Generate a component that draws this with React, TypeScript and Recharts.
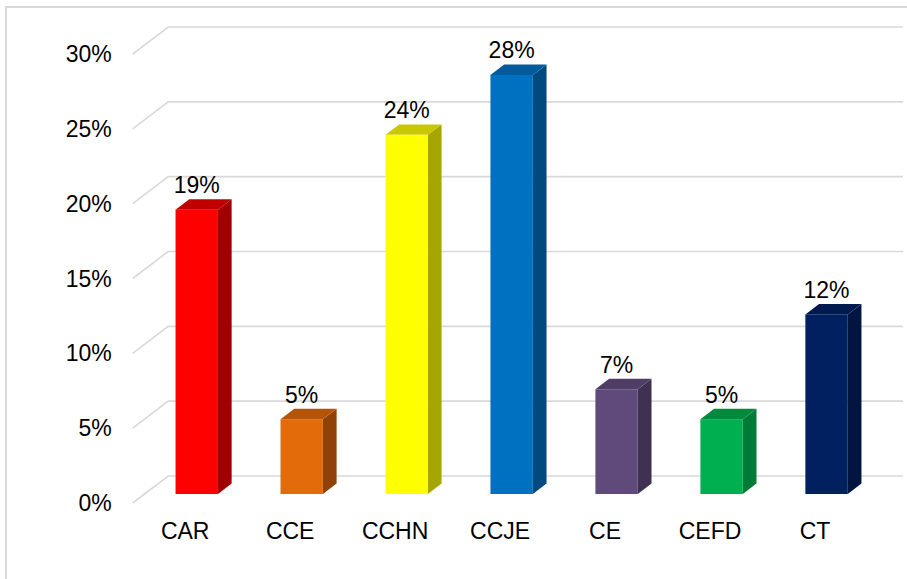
import { Bar, BarChart, CartesianGrid, LabelList, XAxis, YAxis } from "recharts";

const categories = ["CAR", "CCE", "CCHN", "CCJE", "CE", "CEFD", "CT"];
const shares = [19, 5, 24, 28, 7, 5, 12];
const yTicks = [0, 5, 10, 15, 20, 25, 30];

// front, top, side
const palette = [
  ["#FF0000", "#C00000", "#A00000"],
  ["#E36C0A", "#B45408", "#8E4207"],
  ["#FFFF00", "#C8C800", "#A6A600"],
  ["#0070C0", "#005A9C", "#004A80"],
  ["#604A7B", "#4F3D66", "#3F3151"],
  ["#00B050", "#008A3E", "#007A37"],
  ["#002060", "#001A50", "#001540"],
];

const data = categories.map((name, i) => ({ name, value: shares[i] }));

const FONT = "'Liberation Sans', Arial, sans-serif";

// oblique projection of the floor depth
const DEPTH_X = 35.5;
const DEPTH_Y = -27;
// bar sits at 1/3 of depth, and is ~0.385 deep
const BAR_OFF_X = DEPTH_X / 3;
const BAR_OFF_Y = DEPTH_Y / 3;
const BAR_DX = 13.7;
const BAR_DY = -10.4;

function Box(props: any) {
  const { x, y, width, height, index } = props;
  const [front, top, side] = palette[index % palette.length];
  const fx = x + BAR_OFF_X;
  const fy = y + BAR_OFF_Y;
  const r = fx + width;
  const b = fy + height;
  return (
    <g>
      <polygon
        points={`${r},${fy} ${r + BAR_DX},${fy + BAR_DY} ${r + BAR_DX},${b + BAR_DY} ${r},${b}`}
        fill={side}
      />
      <polygon
        points={`${fx},${fy} ${fx + BAR_DX},${fy + BAR_DY} ${r + BAR_DX},${fy + BAR_DY} ${r},${fy}`}
        fill={top}
      />
      <rect x={fx} y={fy} width={width} height={height} fill={front} />
    </g>
  );
}

function gridLine(props: any) {
  const { x1, y1, x2 } = props;
  return (
    <path
      key={props.key ?? `g-${y1}`}
      d={`M${x1},${y1} L${x1 + DEPTH_X},${y1 + DEPTH_Y} L${x2 + DEPTH_X},${y1 + DEPTH_Y}`}
      stroke="#D9D9D9"
      strokeWidth={1.6}
      fill="none"
    />
  );
}

function valueLabel(props: any) {
  const { x, y, width, value } = props;
  return (
    <text
      x={x + width / 2 + BAR_OFF_X}
      y={y - 25.5}
      textAnchor="middle"
      fontSize={23}
      fontFamily={FONT}
      fill="#000"
    >
      {`${value}%`}
    </text>
  );
}

export default function App() {
  return (
    <div
      style={{
        position: "absolute",
        left: 0,
        top: 0,
        width: 907,
        height: 579,
        overflow: "hidden",
        background: "#fff",
      }}
    >
      <div
        style={{
          position: "absolute",
          left: 5,
          top: 6,
          width: 940,
          height: 620,
          border: "2px solid #D9D9D9",
        }}
      />
      <div style={{ position: "absolute", left: 0, top: 0 }}>
        <BarChart
          width={907}
          height={579}
          data={data}
          margin={{ top: 54, right: 39.5, bottom: 36, left: 0 }}
          barSize={42.4}
        >
          <CartesianGrid vertical={false} horizontal={gridLine} />
          <XAxis
            dataKey="name"
            axisLine={false}
            tickLine={false}
            tickSize={0}
            tickMargin={20}
            height={40}
            interval={0}
            tick={{ fontSize: 23, fill: "#000", fontFamily: FONT }}
          />
          <YAxis
            domain={[0, 30]}
            ticks={yTicks}
            width={132.7}
            axisLine={false}
            tickLine={false}
            tickSize={0}
            tickMargin={21}
            tickFormatter={(v) => `${v}%`}
            tick={{ fontSize: 23, fill: "#000", fontFamily: FONT }}
          />
          <Bar dataKey="value" shape={Box} isAnimationActive={false}>
            <LabelList dataKey="value" content={valueLabel} />
          </Bar>
        </BarChart>
      </div>
    </div>
  );
}
